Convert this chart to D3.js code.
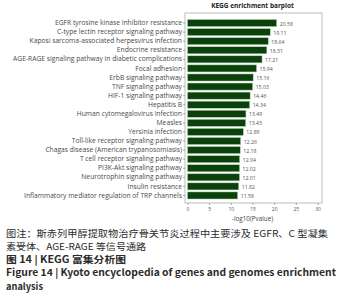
<!DOCTYPE html>
<meta charset="utf-8">
<style>
body { margin: 0; background: #fff; }
.frame { fill: none; stroke: #bdbdbd; stroke-width: 1px; }
.axis text { font-family: "Open Sans", sans-serif; fill: #555; }
.axis path, .axis line { stroke: #777; stroke-width: 0.6px; }
.cap { font-family: "Noto Sans CJK SC", sans-serif; fill: #2b2b2b; }
</style>
<body>
<script src="https://d3js.org/d3.v7.min.js"></script>
<script>

// pathway names, top to bottom
var pathways = [
  "EGFR tyrosine kinase inhibitor resistance",
  "C-type lectin receptor signaling pathway",
  "Kaposi sarcoma-associated herpesvirus infection",
  "Endocrine resistance",
  "AGE-RAGE signaling pathway in diabetic complications",
  "Focal adhesion",
  "ErbB signaling pathway",
  "TNF signaling pathway",
  "HIF-1 signaling pathway",
  "Hepatitis B",
  "Human cytomegalovirus infection",
  "Measles",
  "Yersinia infection",
  "Toll-like receptor signaling pathway",
  "Chagas disease (American trypanosomiasis)",
  "T cell receptor signaling pathway",
  "PI3K-Akt signaling pathway",
  "Neurotrophin signaling pathway",
  "Insulin resistance",
  "Inflammatory mediator regulation of TRP channels"
];
// -log10(Pvalue)
var values = [20.58, 19.11, 18.64, 18.31, 17.21, 15.94, 15.16, 15.03, 14.46, 14.34,
              13.49, 13.43, 12.89, 12.26, 12.18, 12.04, 12.02, 12.01, 11.82, 11.58];
var xTicks = [0, 5, 10, 15, 20, 25, 30];

var captionLines = [
  "图注：斯赤列甲醇提取物治疗骨关节炎过程中主要涉及 EGFR、C 型凝集",
  "素受体、AGE-RAGE 等信号通路",
  "图 14  |  KEGG 富集分析图",
  "Figure 14  |  Kyoto encyclopedia of genes and genomes enrichment",
  "analysis"
];

var svg = d3.select("body").append("svg")
    .attr("width", 338)
    .attr("height", 300);

// plot area
var pLeft = 185, pRight = 322, pTop = 13, pBottom = 203;

var x = d3.scaleLinear().domain([0, 30]).range([187.5, 317.5]);
var y = d3.scaleBand().domain(pathways).range([pTop + 4.5, pBottom - 2]).padding(0.22);

svg.append("rect")
    .attr("class", "frame")
    .attr("x", pLeft).attr("y", pTop)
    .attr("width", pRight - pLeft).attr("height", pBottom - pTop);

// title
svg.append("text")
    .attr("x", (pLeft + pRight) / 2 - 1)
    .attr("y", 8)
    .attr("text-anchor", "middle")
    .style("font-family", "'Open Sans', sans-serif")
    .style("font-weight", "bold")
    .style("font-size", "6.5px")
    .style("fill", "#222")
    .text("KEGG enrichment barplot");

// bars
svg.selectAll(".bar")
    .data(values)
  .enter().append("rect")
    .attr("class", "bar")
    .attr("x", x(0))
    .attr("y", function(d, i) { return y(pathways[i]); })
    .attr("width", function(d) { return x(d) - x(0); })
    .attr("height", y.bandwidth())
    .style("fill", "#0b420b")
    .style("stroke", "#b9d3b9")
    .style("stroke-width", 0.5);

// value labels
svg.selectAll(".val")
    .data(values)
  .enter().append("text")
    .attr("x", function(d) { return x(d) + 3; })
    .attr("y", function(d, i) { return y(pathways[i]) + y.bandwidth() / 2 + 2.5; })
    .style("font-family", "'Open Sans', sans-serif")
    .style("font-size", "5.2px")
    .style("fill", "#555")
    .text(function(d) { return d.toFixed(2); });

// y axis
var yAxis = svg.append("g")
    .attr("class", "axis")
    .attr("transform", "translate(" + pLeft + ",0)")
    .call(d3.axisLeft(y).tickSize(2).tickPadding(1));
yAxis.select(".domain").remove();
var yLabels = yAxis.selectAll("text")
    .style("font-size", "6px")
    .style("fill", "#4a4a4a");

// scale label font so the longest one spans ~169px like the original
var widest = d3.max(yLabels.nodes(), function(n) { return n.getComputedTextLength(); });
yLabels.style("font-size", (6 * 169 / widest) + "px");

// x axis
var xAxis = svg.append("g")
    .attr("class", "axis")
    .attr("transform", "translate(0," + pBottom + ")")
    .call(d3.axisBottom(x).tickValues(xTicks).tickSize(2).tickPadding(2));
xAxis.select(".domain").remove();
xAxis.selectAll("text").style("font-size", "5px");

svg.append("text")
    .attr("x", x(15))
    .attr("y", 221)
    .attr("text-anchor", "middle")
    .style("font-family", "'Open Sans', sans-serif")
    .style("font-size", "6.3px")
    .style("fill", "#444")
    .text("-log10(Pvalue)");

// caption
var capWidths = [322, 140, 120, 330, 37];
var capBold = [false, false, true, true, true];
svg.selectAll(".cap")
    .data(captionLines)
  .enter().append("text")
    .attr("class", "cap")
    .attr("x", 6)
    .attr("y", function(d, i) { return 236.5 + i * 13.3; })
    .attr("textLength", function(d, i) { return capWidths[i]; })
    .attr("lengthAdjust", "spacingAndGlyphs")
    .style("font-size", "9.6px")
    .style("font-weight", function(d, i) { return capBold[i] ? "bold" : "normal"; })
    .text(function(d) { return d; });

</script>
</body>
